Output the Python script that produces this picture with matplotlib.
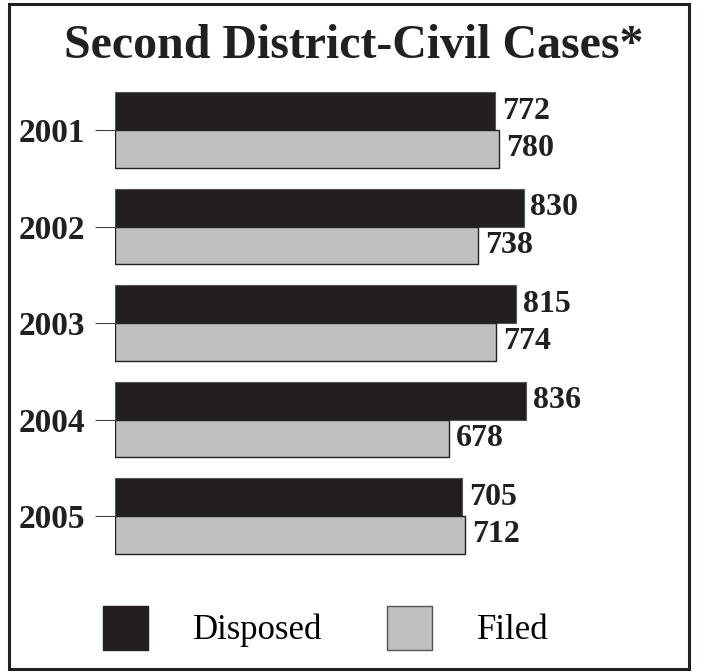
import matplotlib.pyplot as plt
from matplotlib.patches import Rectangle, Patch

years = ["2001", "2002", "2003", "2004", "2005"]
disposed = [772, 830, 815, 836, 705]
filed = [780, 738, 774, 678, 712]

dark = "#231f20"
grey = "#c0c0c0"
serif = ["Liberation Serif", "DejaVu Serif"]

W, H = 709, 672
fig = plt.figure(figsize=(W / 100, H / 100), dpi=100)

# axes placed in pixel terms: x=0 at 115px, 2001 tick at 130px, 96.5px per year
left, right, top, bottom = 115, 690, 80, 600
ax = fig.add_axes([left / W, 1 - bottom / H, (right - left) / W, (bottom - top) / H])
px_per_unit = 0.4922
ax.set_xlim(0, (right - left) / px_per_unit)
step = 96.5
ytop = -(130 - top) / step
ax.set_ylim(ytop + (bottom - top) / step, ytop)

h = 0.39
pos = range(len(years))
ax.barh([p - h / 2 for p in pos], disposed, height=h, color=dark,
        edgecolor="#555555", linewidth=0.8)
ax.barh([p + h / 2 for p in pos], filed, height=h, color=grey,
        edgecolor=dark, linewidth=1.0)

for p, d, f in zip(pos, disposed, filed):
    ax.annotate(str(d), (d, p - h / 2), xytext=(5, 0), textcoords="offset points",
                va="center", ha="left", fontsize=23, fontweight="bold",
                family=serif, color=dark)
    ax.annotate(str(f), (f, p + h / 2), xytext=(5, 0), textcoords="offset points",
                va="center", ha="left", fontsize=23, fontweight="bold",
                family=serif, color=dark)

ax.set_yticks(list(pos))
ax.set_yticklabels(years, fontsize=24, fontweight="bold", family=serif, color=dark)
ax.tick_params(axis="y", length=14.4, width=0.8, pad=7, color="#444444")
ax.set_xticks([])
for s in ax.spines.values():
    s.set_visible(False)

fig.text(354 / W, 1 - 46 / H, "Second District-Civil Cases*", ha="center", va="center",
         fontsize=34.5, fontweight="bold", family=serif, color=dark)

handles = [Patch(facecolor=dark, edgecolor=dark, label="Disposed"),
           Patch(facecolor=grey, edgecolor="#555555", label="Filed")]
fig.legend(handles=handles, loc="center left", bbox_to_anchor=(103 / W, 1 - 628 / H),
           ncol=2, frameon=False, prop={"family": serif, "size": 25},
           handlelength=1.3, handleheight=1.6, handletextpad=1.3, columnspacing=1.85,
           borderpad=0, borderaxespad=0)

fig.patches.append(Rectangle((9 / W, 3 / H), 680 / W, 665 / H, transform=fig.transFigure,
                             fill=False, edgecolor=dark, linewidth=2.2))

fig.savefig("out.png", dpi=100)
